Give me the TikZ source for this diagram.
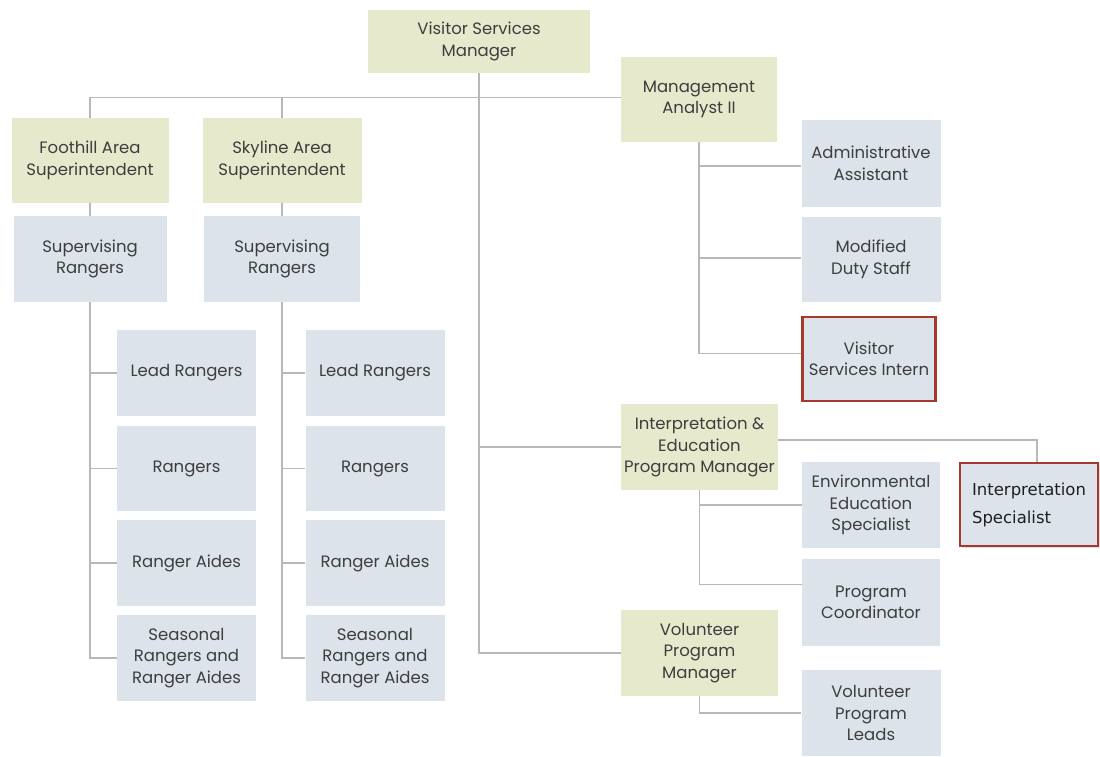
\documentclass[tikz,border=0pt]{standalone}
\usepackage{fontspec}
\setmainfont{Poppins}
\newfontfamily\isfont{DejaVu Sans}
\usetikzlibrary{shadows}
\definecolor{gfill}{HTML}{E7E9CD}
\definecolor{bfill}{HTML}{DCE3EA}
\definecolor{lcol}{HTML}{B8B8B4}
\definecolor{tcol}{HTML}{3E3E3E}
\definecolor{rcol}{HTML}{A8382B}
\tikzset{
  base/.style={inner sep=2pt, align=center, text=tcol, font=\fontsize{16.5}{21.5}\selectfont},
  gbox/.style={base, fill=gfill},
  bbox/.style={base, fill=bfill},
  rbox/.style={base, fill=bfill, draw=rcol, line width=2.2pt,
    drop shadow={opacity=0.25, shadow xshift=1.5pt, shadow yshift=-1.5pt}},
  conn/.style={draw=lcol, line width=1.2pt},
}
\begin{document}
\begin{tikzpicture}[x=1pt,y=-1pt]
\useasboundingbox (0,0) rectangle (1100,756);
% top
\node[gbox, minimum width=222pt, minimum height=63pt] (vsm) at (479,41.5) {Visitor Services\\Manager};
\node[gbox, minimum width=157pt, minimum height=85pt] (fh) at (90,160.5) {Foothill Area\\Superintendent};
\node[gbox, minimum width=159pt, minimum height=85pt] (sk) at (282,160.5) {Skyline Area\\Superintendent};
\node[bbox, minimum width=153pt, minimum height=86pt] (sr1) at (90,259) {Supervising\\Rangers};
\node[bbox, minimum width=156pt, minimum height=86pt] (sr2) at (282,259) {Supervising\\Rangers};
% left columns
\node[bbox, minimum width=139pt, minimum height=86pt] (lr1) at (186.5,373) {Lead Rangers};
\node[bbox, minimum width=139pt, minimum height=85pt] (ra1) at (186.5,468.5) {Rangers};
\node[bbox, minimum width=139pt, minimum height=86pt] (ai1) at (186.5,563) {Ranger Aides};
\node[bbox, minimum width=139pt, minimum height=86pt] (se1) at (186.5,658) {Seasonal\\Rangers and\\Ranger Aides};
\node[bbox, minimum width=139pt, minimum height=86pt] (lr2) at (375,373) {Lead Rangers};
\node[bbox, minimum width=139pt, minimum height=85pt] (ra2) at (375,468.5) {Rangers};
\node[bbox, minimum width=139pt, minimum height=86pt] (ai2) at (375,563) {Ranger Aides};
\node[bbox, minimum width=139pt, minimum height=86pt] (se2) at (375,658) {Seasonal\\Rangers and\\Ranger Aides};
% right side
\node[gbox, minimum width=156pt, minimum height=85pt] (ma) at (699,99.5) {Management\\Analyst II};
\node[bbox, minimum width=139pt, minimum height=87pt] (aa) at (871,163.5) {Administrative\\Assistant};
\node[bbox, minimum width=139pt, minimum height=85pt] (mds) at (871,259.5) {Modified\\Duty Staff};
\node[rbox, minimum width=133pt, minimum height=84pt, anchor=north] (vsi) at (869,315.5) {Visitor\\Services Intern};
\node[gbox, minimum width=157pt, minimum height=86pt] (iem) at (699.5,447) {Interpretation \&\\Education\\Program Manager};
\node[rbox, minimum width=138pt, minimum height=83pt, align=left, text=black!88,
  font=\isfont\fontsize{16.5}{28}\selectfont] (is) at (1029,504.5) {Interpretation\\Specialist};
\node[bbox, minimum width=138pt, minimum height=86pt] (ees) at (871,505) {Environmental\\Education\\Specialist};
\node[bbox, minimum width=138pt, minimum height=87pt] (pc) at (871,602.5) {Program\\Coordinator};
\node[gbox, minimum width=157pt, minimum height=86pt] (vpm) at (699.5,653) {Volunteer\\Program\\Manager};
\node[bbox, minimum width=139pt, minimum height=86pt] (vpl) at (871,713) {Volunteer\\Program\\Leads};
% connector helper points
\coordinate (hbar) at ([yshift=2pt]ma.west);
\coordinate (ieout) at ([yshift=7pt]iem.east);
\coordinate (isin) at ([xshift=8pt]is.north);
% connectors
\draw[conn] (fh.north) |- (hbar);
\draw[conn] (sk.north) -- (sk.north |- hbar);
\draw[conn] (vsm.south) |- (vpm.west);
\draw[conn] (vsm.south |- iem.west) -- (iem.west);
\draw[conn] (fh) -- (sr1);
\draw[conn] (sk) -- (sr2);
\draw[conn] (sr1.south) |- (lr1.west);
\draw[conn] (sr1.south) |- (ra1.west);
\draw[conn] (sr1.south) |- (ai1.west);
\draw[conn] (sr1.south) |- (se1.west);
\draw[conn] (sr2.south) |- (lr2.west);
\draw[conn] (sr2.south) |- (ra2.west);
\draw[conn] (sr2.south) |- (ai2.west);
\draw[conn] (sr2.south) |- (se2.west);
\draw[conn] (ma.south) |- ([yshift=-2.5pt]aa.west);
\draw[conn] (ma.south) |- ([yshift=1.5pt]mds.west);
\draw[conn] (ma.south) |- ([yshift=5.5pt]vsi.west);
\draw[conn] (ieout) -| (isin);
\draw[conn] (iem.south) |- (ees.west);
\draw[conn] (iem.south) |- ([yshift=18pt]pc.west);
\draw[conn] (vpm.south) |- (vpl.west);
\end{tikzpicture}
\end{document}
